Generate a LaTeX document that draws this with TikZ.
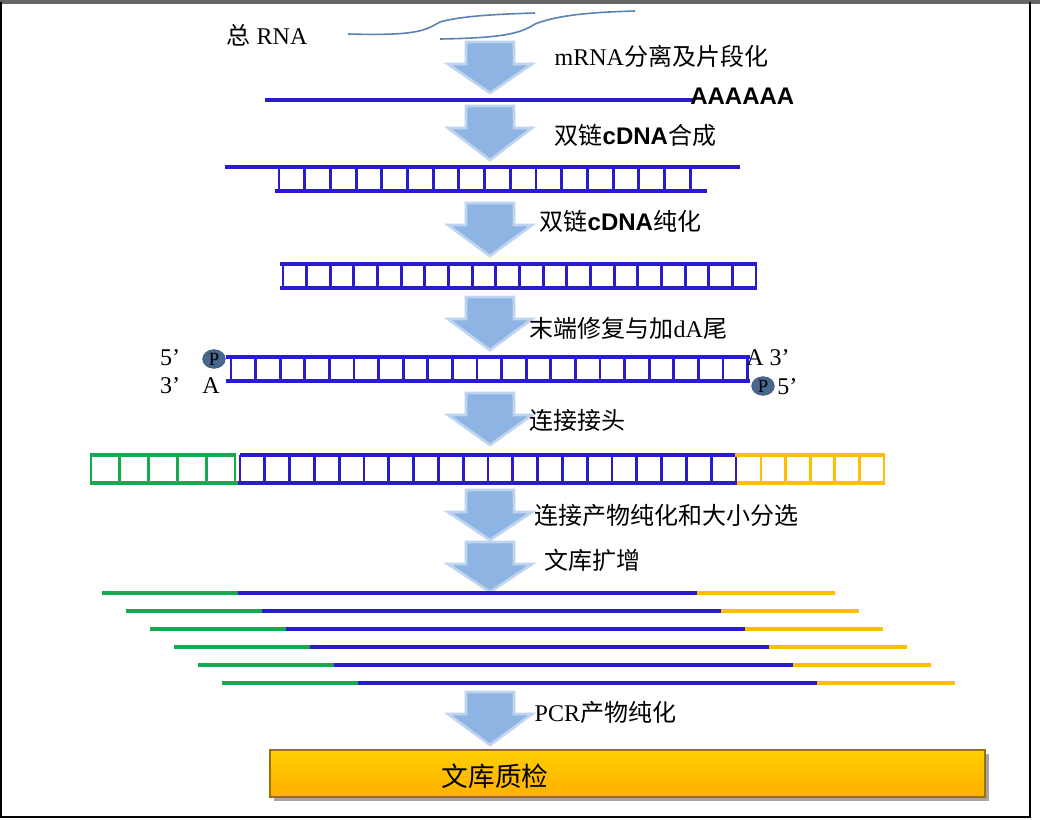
\documentclass[tikz,border=0pt]{standalone}
\usetikzlibrary{shapes.geometric}
\usepackage{fontspec}
\setmainfont{Liberation Serif}
\newfontfamily\cjk{Noto Sans CJK SC}
\newfontfamily\sans{Liberation Sans}
\definecolor{dna}{RGB}{40,28,205}
\definecolor{grn}{RGB}{20,170,80}
\definecolor{ylw}{RGB}{255,190,0}
\definecolor{arr}{RGB}{141,180,226}
\definecolor{arrl}{RGB}{190,212,240}
\definecolor{rnac}{RGB}{90,130,180}
\begin{document}
\begin{tikzpicture}[x=0.75pt,y=-0.75pt,
  strand/.style={line width=3pt},
  rung/.style={line width=2.2pt},
  lab/.style={anchor=west,font=\fontsize{18}{20}\selectfont},
  big/.style={fill=arr,draw=arrl,line width=2pt},
  phos/.style={ellipse,fill=rnac!80!black,draw=rnac!60!black,minimum width=17pt,minimum height=14pt,inner sep=0,font=\fontsize{14}{14}\selectfont}]
\useasboundingbox (0,0) rectangle (1040,819);
\fill[white] (0,0) rectangle (1040,819);
\draw[gray!80!black,line width=3pt] (0,2) -- (1040,2);
\draw[black,line width=1pt] (1,2) -- (1,817) -- (1030,817) -- (1030,2);
\newcommand\bigarr[3]{\draw[big] (#1-24,#2) -- (#1+24,#2) -- (#1+24,#2+22) -- (#1+42,#2+22) -- (#1,#3) -- (#1-42,#2+22) -- (#1-24,#2+22) -- cycle;}
% RNA
\node[lab] (rna) at (222,35) {{\cjk 总} RNA};
\draw[rnac,line width=1.2pt] (348,34) .. controls (420,36) and (425,30) .. (440,22) .. controls (460,16) and (500,14) .. (535,13);
\draw[rnac,line width=1.2pt] (440,39) .. controls (500,38) and (520,34) .. (535,24) .. controls (560,14) and (600,12) .. (635,11);
\bigarr{490}{42}{93}
\node[lab] (l1) at (550,56) {mRNA{\cjk 分离及片段化}};
\draw[dna,strand] (265,100) -- (695,100);
\node[anchor=west,font=\sans\bfseries\fontsize{18}{20}\selectfont,inner sep=0] (polyA) at (690,96) {AAAAAA};
\bigarr{490}{106}{160}
\node[lab] (l2) at (550,135) {{\cjk 双链}{\sans\bfseries cDNA}{\cjk 合成}};
% ds1
\draw[dna,strand] (225,167) -- (740,167);
\draw[dna,strand] (275,191) -- (707,191);
\foreach \i in {0,...,16} \draw[dna,rung] (279+25.7*\i,167) -- (279+25.7*\i,191);
\bigarr{490}{203}{256}
\node[lab] (l3) at (535,221) {{\cjk 双链}{\sans\bfseries cDNA}{\cjk 纯化}};
% ds2
\draw[dna,strand] (280,264) -- (757,264);
\draw[dna,strand] (280,288) -- (757,288);
\foreach \i in {0,...,20} \draw[dna,rung] (283+23.65*\i,264) -- (283+23.65*\i,288);
\bigarr{490}{297}{350}
\node[lab] (l4) at (525,328) {{\cjk 末端修复与加}dA{\cjk 尾}};
% ds3
\draw[dna,strand] (226,357) -- (750,357);
\draw[dna,strand] (226,381) -- (750,381);
\foreach \i in {0,...,21} \draw[dna,rung] (231+24.6*\i,357) -- (231+24.6*\i,381);
\node[phos] (p1) at (214,359) {P};
\node[phos] (p2) at (763,386) {P};
\node[font=\fontsize{18}{20}\selectfont] (f5a) at (170,358) {5’};
\node[font=\fontsize{18}{20}\selectfont] (f3a) at (170,386) {3’};
\node[font=\fontsize{18}{20}\selectfont] (aa) at (211,386) {A};
\node[font=\fontsize{18}{20}\selectfont,anchor=west,inner sep=0] (a3) at (746,358) {A 3’};
\node[font=\fontsize{18}{20}\selectfont,anchor=west,inner sep=0] (f5b) at (777,387) {5’};
\bigarr{490}{393}{445}
\node[lab] (l5) at (525,420) {\cjk 连接接头};
% ligated
\draw[grn,strand] (90,455) -- (236,455);
\draw[grn,strand] (90,483) -- (238,483);
\foreach \i in {0,...,5} \draw[grn,rung] (91+28.8*\i,455) -- (91+28.8*\i,483);
\draw[dna,strand] (240,455) -- (740,455);
\draw[dna,strand] (238,483) -- (737,483);
\foreach \i in {0,...,20} \draw[dna,rung] (240+24.8*\i,455) -- (240+24.8*\i,483);
\draw[ylw,strand] (735,455) -- (885,455);
\draw[ylw,strand] (737,483) -- (885,483);
\foreach \i in {0,...,5} \draw[ylw,rung] (761+24.6*\i,455) -- (761+24.6*\i,483);
\bigarr{490}{490}{540}
\node[lab] (l6) at (530,515) {\cjk 连接产物纯化和大小分选};
\bigarr{490}{542}{592}
\node[lab] (l7) at (540,560) {\cjk 文库扩增};
% amplified
\foreach \i in {0,...,5} {
  \draw[grn,strand] (102+24*\i,593+18*\i) -- (238+24*\i,593+18*\i);
  \draw[dna,strand] (238+24*\i,593+18*\i) -- (697+24*\i,593+18*\i);
  \draw[ylw,strand] (697+24*\i,593+18*\i) -- (835+24*\i,593+18*\i);
}
\bigarr{490}{692}{745}
\node[lab] (l8) at (530,712) {PCR{\cjk 产物纯化}};
% box
\fill[black!35] (274,754) rectangle (989,801);
\shade[top color=ylw!70!yellow,bottom color=ylw!80!orange,middle color=ylw] (270,750) rectangle (985,797);
\draw[ylw!60!black,line width=0.8pt] (270,750) rectangle (985,797);
\node[font=\cjk\fontsize{20}{22}\selectfont] (qc) at (495,776) {文库质检};
\end{tikzpicture}
\end{document}
